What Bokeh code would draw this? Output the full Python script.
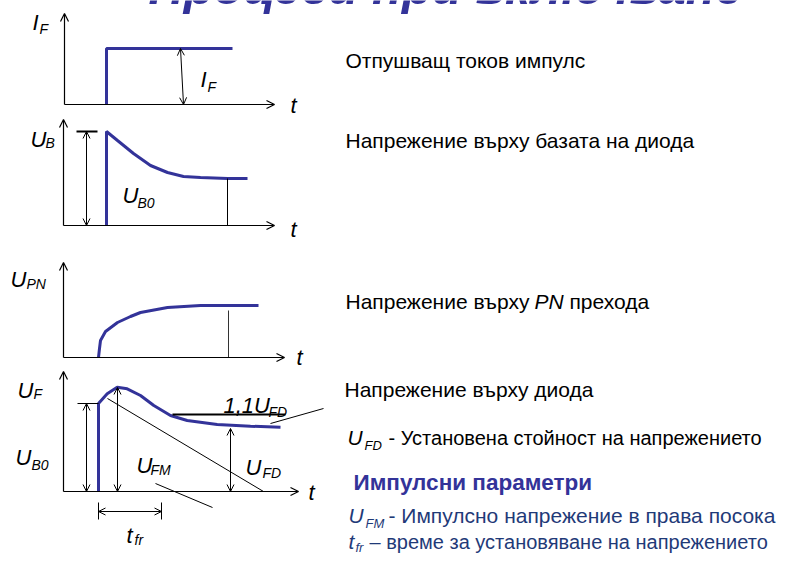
from bokeh.plotting import figure
from bokeh.models import Range1d, Arrow, OpenHead
from bokeh.core.properties import value
from bokeh.embed import file_html
from bokeh.resources import INLINE

# ---------------- data (diagram coordinates, reference-pixel space) -------------
# Panel 1: forward current step I_F
if_t = [106, 106, 232]
if_v = [104, 48, 48]
# Panel 2: base voltage U_B (jump then decay)
ub_t = [106, 106, 117, 133, 150, 167, 183, 200, 227, 247]
ub_v = [225, 131, 140, 153, 165, 172, 176, 177, 178, 178]
# Panel 3: PN junction voltage U_PN (rise and saturate)
upn_t = [98, 99, 100, 105, 117, 130, 140, 167, 200, 233, 258]
upn_v = [357, 348, 340, 331, 322, 316, 312, 307, 305, 305, 305]
# Panel 4: diode voltage U_F (jump, overshoot, settle)
uf_t = [98, 98, 106.7, 116.7, 126.7, 140, 153.3, 170, 186.7, 216.7, 250, 280]
uf_v = [491, 403, 393.3, 386.7, 388.3, 395, 405, 415, 420, 424, 425.7, 426.7]

BLUE = "#333399"
NAVY = "#1f3a78"
FONT = "Liberation Sans"
SHIFT = 0.37       # baseline correction (fraction of font size)

p = figure(width=778, height=554, x_range=Range1d(0, 778), y_range=Range1d(554, 0),
           output_backend="svg", toolbar_location=None, min_border=0,
           x_axis_location=None, y_axis_location=None)
p.xgrid.visible = False
p.ygrid.visible = False
p.outline_line_color = None
p.background_fill_color = "white"


def arrow(x0, y0, x1, y1, double=False, size=8, lw=1.2):
    end = OpenHead(size=size, line_width=lw, line_color="black")
    start = OpenHead(size=size, line_width=lw, line_color="black") if double else None
    p.add_layout(Arrow(x_start=x0, y_start=y0, x_end=x1, y_end=y1, start=start, end=end,
                       line_width=lw, line_color="black"))


def seg(xs, ys, lw=1.0, color="black"):
    p.line(xs, ys, line_width=lw, line_color=color)


def txt(x, y, s, size, style="normal", color="black", font=FONT, align="left"):
    p.text(x=[x], y=[y - SHIFT * size], text=[s], text_font=value(font),
           text_font_size=value(f"{size:.1f}px"),
           text_font_style=style, text_color=color, text_align=align,
           text_baseline="alphabetic")


def sub_label(x, y, main, sub, size=22, subsize=14, dx=15, dy=4, color="black"):
    txt(x, y, main, size, "italic", color)
    txt(x + dx, y + dy, sub, subsize, "italic", color)


# ---------------- title (clipped at top, as in the reference) ----------------
txt(148, 5, "Процеси при включване", 49, "bold italic", BLUE)

# ---------------- panel 1 ----------------
arrow(64, 104, 64, 13)
arrow(64, 104, 274, 104)
p.line(if_t, if_v, line_width=3, line_color=BLUE)
arrow(180, 48, 183, 104, double=True, size=7, lw=1.0)
sub_label(32, 30, "I", "F", dx=7, dy=4)
sub_label(200, 87, "I", "F", dx=7, dy=5)
txt(290, 113, "t", 22, "italic")

# ---------------- panel 2 ----------------
arrow(63, 225, 63, 119)
arrow(63, 225, 274, 225)
p.line(ub_t, ub_v, line_width=3, line_color=BLUE)
seg([76, 97], [131, 131], lw=2)
arrow(86, 131, 86, 225, double=True, size=7, lw=1.0)
seg([227, 227], [178, 225], lw=1)
sub_label(30, 147, "U", "B", dx=15, dy=1)
sub_label(122, 203, "U", "B0", dx=15, dy=5)
txt(290, 237, "t", 22, "italic")

# ---------------- panel 3 ----------------
arrow(63, 357, 63, 262)
arrow(63, 357, 284, 357)
p.line(upn_t, upn_v, line_width=3, line_color=BLUE)
seg([228, 228], [310, 357], lw=1, color="#333333")
sub_label(10, 287, "U", "PN", dx=16, dy=2)
txt(296, 365, "t", 22, "italic")

# ---------------- panel 4 ----------------
arrow(63, 491, 63, 371)
arrow(63, 491, 298, 491)
p.line(uf_t, uf_v, line_width=3, line_color=BLUE)
seg([172, 285], [414, 414], lw=2)
seg([323, 270], [408, 423], lw=1)
seg([77, 98], [403, 403], lw=1.2)
arrow(86, 403, 86, 491, double=True, size=7, lw=1.0)
arrow(117, 387, 117, 491, double=True, size=7, lw=1.0)
seg([107, 263], [398, 491], lw=1)
arrow(230, 428, 230, 491, double=True, size=7, lw=1.0)
seg([155, 212], [483, 507], lw=1)
seg([98, 98], [502, 519], lw=1)
seg([161, 161], [502, 519], lw=1)
arrow(98, 511, 161, 511, double=True, size=7, lw=1.0)
txt(223, 413, "1,1U", 22, "italic")
txt(268, 417, "FD", 14, "italic")
sub_label(17, 398, "U", "F", dx=16, dy=1)
sub_label(15, 465, "U", "B0", dx=16, dy=5)
sub_label(136, 473, "U", "FM", dx=14, dy=2)
sub_label(245, 475, "U", "FD", dx=17, dy=3)
txt(308, 500, "t", 22, "italic")
sub_label(126, 543, "t", "fr", size=22, dx=8, dy=2)

# ---------------- right-hand texts ----------------
RS = 21
txt(345, 68, "Отпушващ токов импулс", RS)
txt(345, 148, "Напрежение върху базата на диода", RS)
txt(345, 309, "Напрежение върху", RS)
txt(534, 309, "PN", RS, "italic")
txt(569, 309, "прехода", RS)
txt(344, 397, "Напрежение върху диода", RS)
sub_label(347, 445, "U", "FD", size=RS, subsize=13, dx=17, dy=5)
txt(388, 445, "- Установена стойност на напрежението", 20)
txt(353, 490, "Импулсни параметри", 22.5, "bold", BLUE)
sub_label(348, 523, "U", "FM", size=RS, subsize=13, dx=17, dy=5, color=NAVY)
txt(388, 523, "- Импулсно напрежение в права посока", RS, color=NAVY)
sub_label(348, 549, "t", "fr", size=RS, subsize=13, dx=7, dy=3, color=NAVY)
txt(369, 549, "– време за установяване на напрежението", 20, color=NAVY)

open("out.html", "w").write(file_html(p, INLINE))
